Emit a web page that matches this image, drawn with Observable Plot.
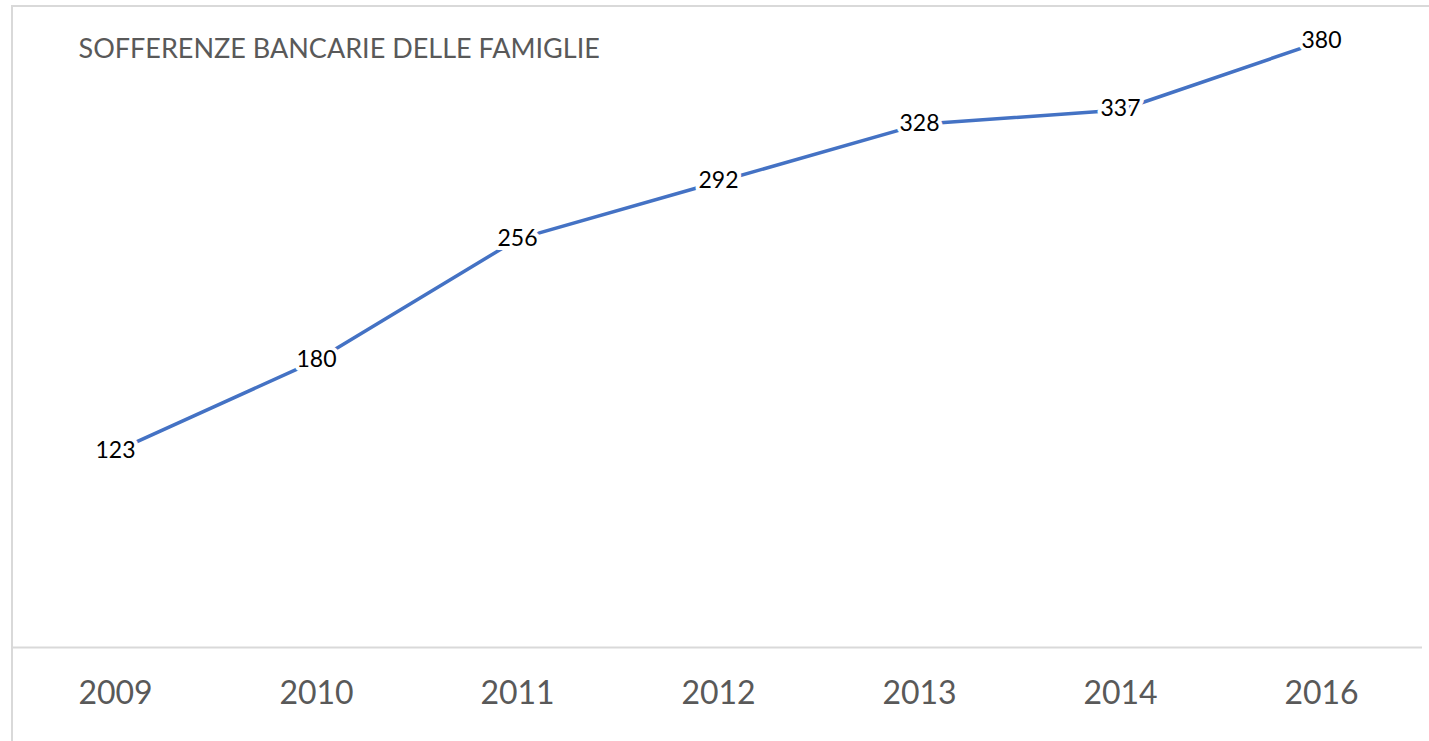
<!DOCTYPE html>
<html>
<head>
<meta charset="utf-8">
<script src="https://cdn.jsdelivr.net/npm/d3@7"></script>
<script src="https://cdn.jsdelivr.net/npm/@observablehq/plot@0.6"></script>
<style>
  html, body { margin: 0; padding: 0; background: #fff; }
  #frame {
    position: absolute; left: 11px; top: 5px;
    width: 1418px; height: 736px;
    border-left: 2px solid #d9d9d9; border-top: 2px solid #d9d9d9;
    box-sizing: border-box;
  }
</style>
</head>
<body>
<div id="frame"></div>
<script>
const title = "SOFFERENZE BANCARIE DELLE FAMIGLIE";
const years = ["2009", "2010", "2011", "2012", "2013", "2014", "2016"];
const values = [123, 180, 256, 292, 328, 337, 380];

const data = years.map((y, i) => ({year: y, value: values[i]}));
const font = "Lato, 'Open Sans', sans-serif";

const chart = Plot.plot({
  width: 1416,
  height: 734,
  marginLeft: 0,
  marginRight: 7,
  marginTop: 2,
  marginBottom: 94,
  style: {fontFamily: font, background: "transparent", overflow: "visible"},
  x: {type: "point", domain: years, padding: 0.5, label: null},
  y: {domain: [0, 400], axis: null},
  marks: [
    Plot.ruleY([0], {stroke: "#d9d9d9", strokeWidth: 2}),
    Plot.axisX({tickSize: 0, tickPadding: 34, fontSize: 32, fill: "#595959", label: null}),
    Plot.line(data, {x: "year", y: "value", stroke: "#4472C4", strokeWidth: 3.5}),
    Plot.text(data, {x: "year", y: "value", text: d => String(d.value), fontSize: 23, fill: "#000",
      dy: -1, stroke: "white", strokeWidth: 8, paintOrder: "stroke"}),
    Plot.text([title], {frameAnchor: "top-left", dx: 65, dy: 29, fontSize: 27, fill: "#595959",
      textAnchor: "start", lineAnchor: "top"})
  ]
});
document.getElementById("frame").appendChild(chart);
</script>
</body>
</html>
